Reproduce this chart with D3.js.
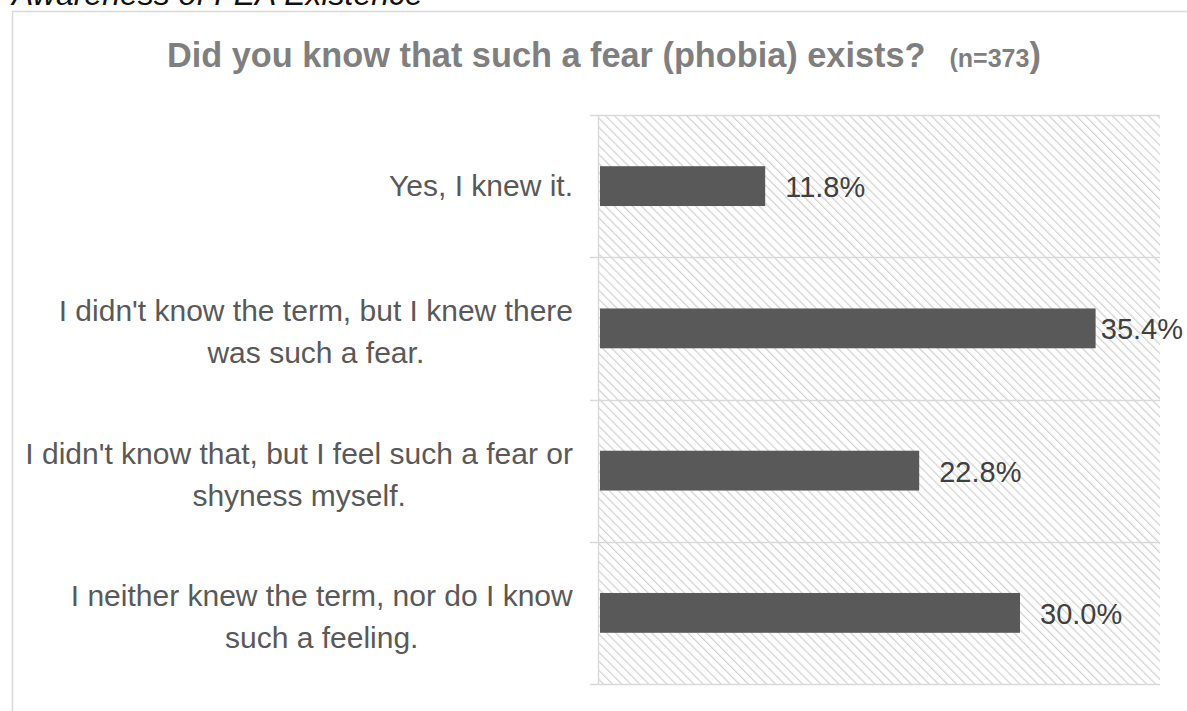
<!DOCTYPE html>
<html>
<head>
<meta charset="utf-8">
<script src="https://cdn.jsdelivr.net/npm/d3@7"></script>
<style>
  html, body { margin: 0; padding: 0; background: #fff; }
  svg { display: block; font-family: "Liberation Sans", Arial, sans-serif; }
</style>
</head>
<body>
<svg id="chart" width="1187" height="711"></svg>
<script>
// Survey answers (top to bottom) and their shares in percent
const categories = [
  ["Yes, I knew it."],
  ["I didn't know the term, but I knew there", "was such a fear."],
  ["I didn't know that, but I feel such a fear or", "shyness myself."],
  ["I neither knew the term, nor do I know", "such a feeling."]
];
const shares = [11.8, 35.4, 22.8, 30.0];
const valueLabels = ["11.8%", "35.4%", "22.8%", "30.0%"];

const svg = d3.select("#chart");
const W = 1187, H = 711;
const plot = { left: 598, right: 1160, top: 115, bottom: 684 };

// Diagonal hatch used behind the bars
const defs = svg.append("defs");
const pat = defs.append("pattern")
  .attr("id", "hatch")
  .attr("patternUnits", "userSpaceOnUse")
  .attr("width", 6.4).attr("height", 6.4)
  .attr("patternTransform", "rotate(-45)");
pat.append("rect").attr("width", 6.4).attr("height", 6.4).attr("fill", "#fff");
pat.append("line")
  .attr("x1", 0).attr("y1", 0).attr("x2", 0).attr("y2", 6.4)
  .attr("stroke", "#d2d2d2").attr("stroke-width", 2.4);

// Heading above the frame (clipped at the top edge)
svg.append("text")
  .attr("x", 12).attr("y", 5)
  .attr("font-size", 32).attr("font-style", "italic")
  .attr("fill", "#111")
  .text("Awareness of FEA Existence");

// Chart frame
svg.append("path")
  .attr("d", `M12.5,${H + 5} V11.5 H${W + 5}`)
  .attr("fill", "none").attr("stroke", "#d9d9d9").attr("stroke-width", 1.5);

// Title
const title = svg.append("text")
  .attr("x", 167).attr("y", 67)
  .attr("font-weight", "bold").attr("fill", "#7f7f7f")
  .attr("font-size", 34.3);
title.append("tspan").text("Did you know that such a fear (phobia) exists?");
title.append("tspan").attr("font-size", 25).attr("dx", 24).text("(n=373");
title.append("tspan").text(")");

// Scales
const x = d3.scaleLinear().domain([0, 40]).range([plot.left + 2, plot.left + 2 + 40 * 14]);
const y = d3.scaleBand().domain(d3.range(categories.length))
  .range([plot.top, plot.bottom]).paddingInner(0.72).paddingOuter(0.36);
const band = d3.scaleBand().domain(d3.range(categories.length))
  .range([plot.top, plot.bottom]);

// Hatched plot background
svg.append("rect")
  .attr("x", plot.left).attr("y", plot.top)
  .attr("width", plot.right - plot.left).attr("height", plot.bottom - plot.top)
  .attr("fill", "url(#hatch)");

// Category separators
const seps = d3.range(categories.length + 1).map(i =>
  i < categories.length ? band(i) : plot.bottom);
svg.append("g").selectAll("line").data(seps).join("line")
  .attr("x1", plot.left - 8).attr("x2", plot.right)
  .attr("y1", d => Math.round(d) + 0.5).attr("y2", d => Math.round(d) + 0.5)
  .attr("stroke", "#d9d9d9").attr("stroke-width", 1.5);

// Vertical axis line
svg.append("line")
  .attr("x1", plot.left + 0.5).attr("x2", plot.left + 0.5)
  .attr("y1", plot.top).attr("y2", plot.bottom)
  .attr("stroke", "#d9d9d9").attr("stroke-width", 1.5);

// Bars
svg.append("g").selectAll("rect").data(shares).join("rect")
  .attr("x", x(0))
  .attr("y", (d, i) => y(i))
  .attr("width", d => x(d) - x(0))
  .attr("height", y.bandwidth())
  .attr("fill", "#595959");

// Value labels, kept inside the picture's right edge
svg.append("g").selectAll("text").data(shares).join("text")
  .attr("y", (d, i) => y(i) + y.bandwidth() / 2 + 11)
  .attr("font-size", 29).attr("fill", "#404040")
  .text((d, i) => valueLabels[i])
  .attr("x", function(d) {
    const w = this.getComputedTextLength();
    return Math.min(x(d) + 20, W - 4 - w);
  });

// Category labels: lines centred on each other, block right-aligned
const fs = 30, lh = 42;
const labelG = svg.append("g").attr("font-size", fs).attr("fill", "#595959");
categories.forEach((lines, i) => {
  const cy = y(i) + y.bandwidth() / 2;
  const shift = lines.length > 1 ? 14 : 10;
  const g = labelG.append("g");
  const t = g.append("text").attr("text-anchor", "middle");
  lines.forEach((ln, k) => {
    t.append("tspan").attr("x", 0)
      .attr("y", cy + shift + (k - (lines.length - 1) / 2) * lh)
      .text(ln);
  });
  const bb = t.node().getBBox();
  g.attr("transform", `translate(${573 - (bb.x + bb.width)},0)`);
});
</script>
</body>
</html>
